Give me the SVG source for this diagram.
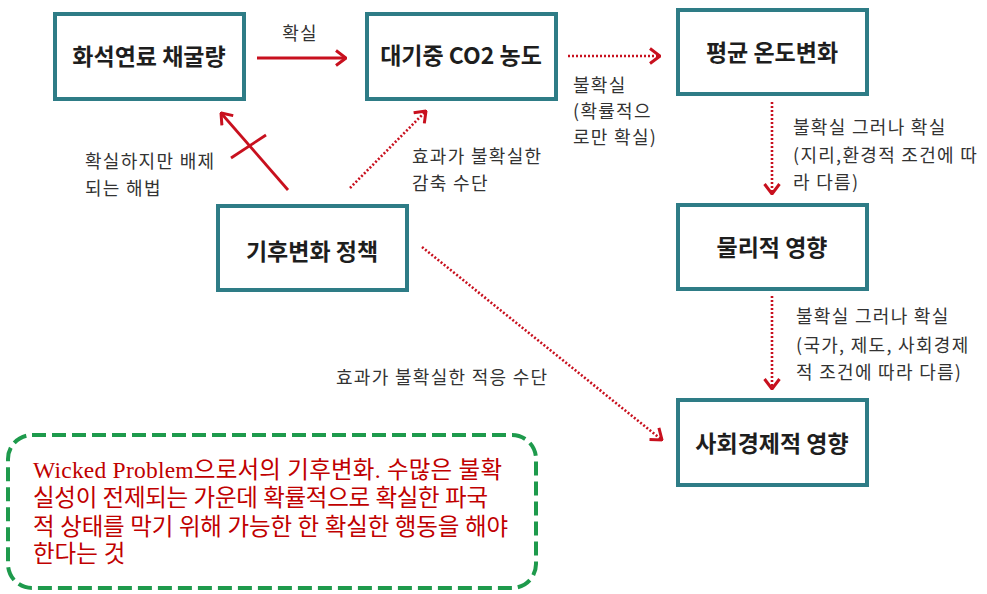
<svg xmlns="http://www.w3.org/2000/svg" width="987" height="594" viewBox="0 0 987 594">
<style>
.box{fill:#fff;stroke:#2e7c86;stroke-width:4}
.bt{font-family:"Noto Sans CJK KR","Liberation Sans",sans-serif;font-size:23px;font-weight:bold;fill:#1e1e1e;text-anchor:middle}
.lb{font-family:"Noto Sans CJK KR","Liberation Sans",sans-serif;font-size:18px;letter-spacing:1.3px;fill:#333}
.solid{stroke:#c8101e;stroke-width:2.8;fill:none}
.dot{stroke:#c8101e;stroke-width:2.6;fill:none;stroke-dasharray:2 2}
.note{font-family:"Liberation Serif","Noto Sans CJK KR",serif;font-size:23.5px;fill:#c00000}
</style>
<defs>
<marker id="ah" viewBox="0 0 12 18" refX="11" refY="9" markerWidth="12" markerHeight="18" markerUnits="userSpaceOnUse" orient="auto">
<path d="M1,1.5 L11,9 L1,16.5" fill="none" stroke="#c8101e" stroke-width="3"/>
</marker>
</defs>
<rect width="987" height="594" fill="#fff"/>
<g id="connectors">
<line class="solid" x1="257" y1="58" x2="346" y2="58" marker-end="url(#ah)"/>
<line class="dot" x1="568" y1="56" x2="660" y2="56" marker-end="url(#ah)"/>
<line class="dot" x1="772" y1="102" x2="772" y2="194" marker-end="url(#ah)"/>
<line class="dot" x1="772" y1="296" x2="772" y2="389" marker-end="url(#ah)"/>
<line class="solid" x1="288" y1="190" x2="221" y2="113" marker-end="url(#ah)"/>
<line class="solid" x1="231" y1="158" x2="266" y2="135"/>
<line class="dot" x1="350" y1="188" x2="426" y2="111" marker-end="url(#ah)"/>
<line class="dot" x1="422" y1="247" x2="662" y2="440" marker-end="url(#ah)"/>
<text class="lb" x="300" y="40" text-anchor="middle">확실</text>
<text class="lb" x="573" y="92">불확실</text>
<text class="lb" x="573" y="118">(확률적으</text>
<text class="lb" x="573" y="144">로만 확실)</text>
<text class="lb" x="793" y="134">불확실 그러나 확실</text>
<text class="lb" x="793" y="162">(지리,환경적 조건에 따</text>
<text class="lb" x="793" y="189">라 다름)</text>
<text class="lb" x="796" y="323">불확실 그러나 확실</text>
<text class="lb" x="796" y="352">(국가, 제도, 사회경제</text>
<text class="lb" x="796" y="379">적 조건에 따라 다름)</text>
<text class="lb" x="85" y="168">확실하지만 배제</text>
<text class="lb" x="85" y="195">되는 해법</text>
<text class="lb" x="412" y="163">효과가 불확실한</text>
<text class="lb" x="412" y="190">감축 수단</text>
<text class="lb" x="336" y="384">효과가 불확실한 적응 수단</text>
</g>
<g id="n1"><rect class="box" x="55" y="14" width="189" height="85"/><text class="bt" x="149" y="65">화석연료 채굴량</text></g>
<g id="n2"><rect class="box" x="367" y="14" width="189" height="85"/><text class="bt" x="461" y="64">대기중 CO2 농도</text></g>
<g id="n3"><rect class="box" x="678" y="10" width="189" height="84"/><text class="bt" x="772" y="61">평균 온도변화</text></g>
<g id="n4"><rect class="box" x="218" y="206" width="189" height="84"/><text class="bt" x="312" y="260">기후변화 정책</text></g>
<g id="n5"><rect class="box" x="678" y="205" width="189" height="84"/><text class="bt" x="772" y="256">물리적 영향</text></g>
<g id="n6"><rect class="box" x="678" y="400" width="189" height="85"/><text class="bt" x="772" y="452">사회경제적 영향</text></g>
<g id="note">
<rect x="8" y="435" width="528" height="153" rx="24" ry="24" fill="none" stroke="#1e9a4c" stroke-width="4" stroke-dasharray="14 6"/>
<text class="note" x="33" y="478" textLength="469" lengthAdjust="spacing">Wicked Problem으로서의 기후변화. 수많은 불확</text>
<text class="note" x="33" y="506" textLength="455" lengthAdjust="spacing">실성이 전제되는 가운데 확률적으로 확실한 파국</text>
<text class="note" x="33" y="535" textLength="475" lengthAdjust="spacing">적 상태를 막기 위해 가능한 한 확실한 행동을 해야</text>
<text class="note" x="33" y="562">한다는 것</text>
</g>
</svg>
